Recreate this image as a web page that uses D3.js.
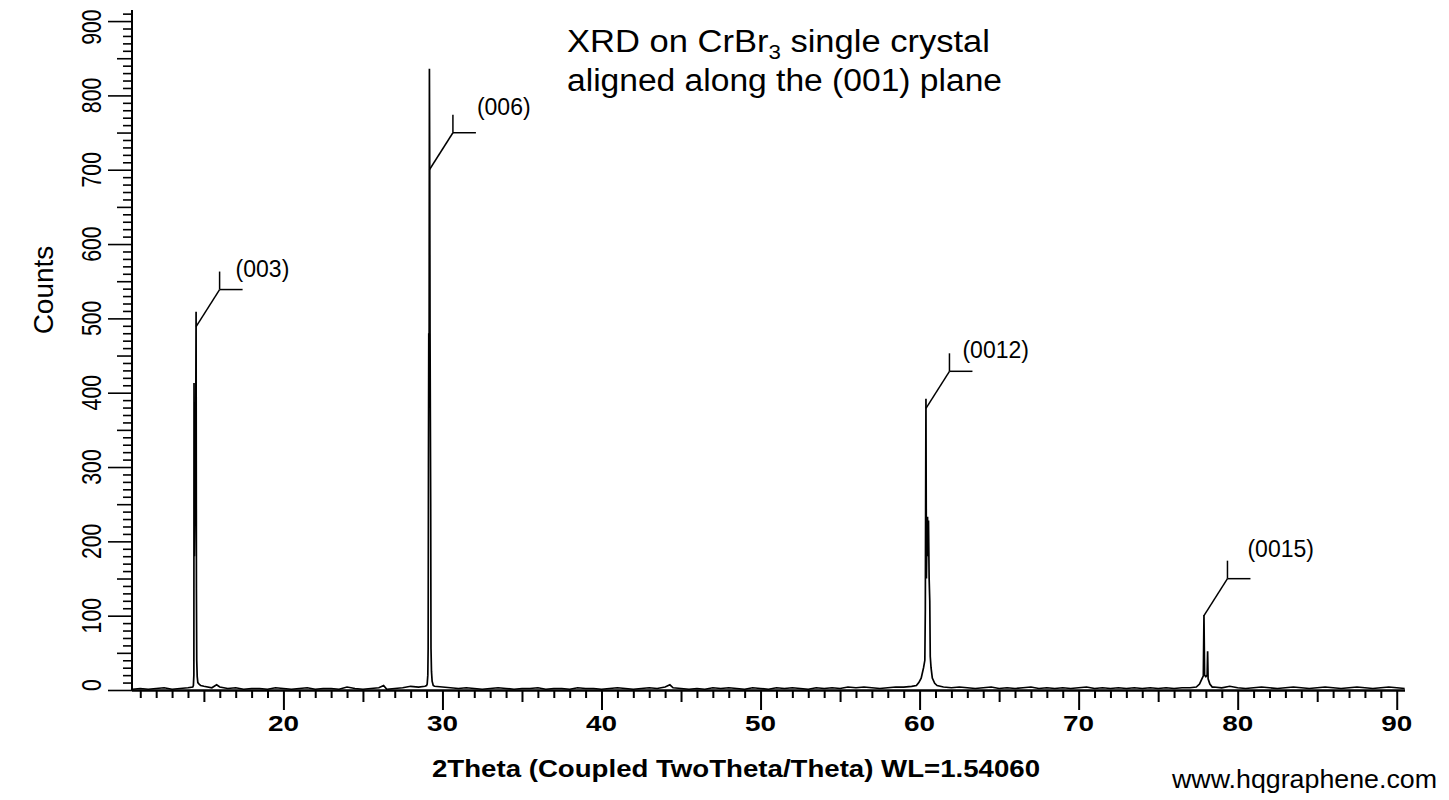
<!DOCTYPE html>
<html><head><meta charset="utf-8">
<script src="https://cdn.jsdelivr.net/npm/d3@7"></script>
<style>
body{margin:0;background:#fff}
svg{display:block}
text{font-family:Arial,"Liberation Sans",sans-serif;fill:#000}
</style>
</head><body>
<svg id="chart" width="1449" height="800"></svg>
<script>
// ---------------- DATA ----------------
const xTickLabels = [20, 30, 40, 50, 60, 70, 80, 90];
const yTickLabels = [0, 100, 200, 300, 400, 500, 600, 700, 800, 900];

// baseline scan points [2theta, counts]
const baselinePoints = [
 [10.5,1],[11,2],[11.5,1],[12,2],[12.5,3],[13,1],[13.5,2],[14,3],[15,5],[15.5,3],
 [15.8,7],[16,4],[16.5,2],[17,3],[17.5,1],[18,2],[18.5,2],[19,1],[19.5,3],[20,2],
 [20.5,1],[21,2],[21.5,3],[22,1],[22.5,2],[23,2],[23.5,1],[24,4],[24.5,2],[25,1],
 [25.5,2],[26,3],[26.3,6],[26.5,1],[27,2],[27.5,3],[28,5],[28.5,4],[29.5,5],[30,4],
 [30.5,3],[31,2],[31.5,3],[32,2],[32.5,1],[33,2],[33.5,3],[34,2],[34.5,1],[35,2],
 [35.5,2],[36,3],[36.5,1],[37,2],[37.5,2],[38,1],[38.5,3],[39,2],[39.5,2],[40,1],
 [40.5,2],[41,3],[41.5,2],[42,1],[42.5,2],[43,3],[43.5,2],[44,4],[44.3,7],[44.5,3],
 [45,2],[45.5,1],[46,2],[46.5,1],[47,3],[47.5,2],[48,3],[48.5,2],[49,1],[49.5,3],
 [50,2],[50.5,1],[51,3],[51.5,2],[52,3],[52.5,2],[53,1],[53.5,3],[54,2],[54.5,3],
 [55,2],[55.5,4],[56,3],[56.5,4],[57,3],[57.5,2],[58,3],[58.5,4],[59,4],[59.5,5],
 [61.5,4],[62,3],[62.5,4],[63,3],[63.5,2],[64,3],[64.5,4],[65,2],[65.5,3],[66,2],
 [66.5,3],[67,4],[67.5,2],[68,3],[68.5,2],[69,3],[69.5,2],[70,3],[70.5,4],[71,2],
 [71.5,3],[72,2],[72.5,3],[73,2],[73.5,3],[74,2],[74.5,3],[75,2],[75.5,3],[76,2],
 [76.5,3],[77,3],[78.5,4],[79,3],[79.5,5],[80,3],[80.5,2],[81,3],[81.5,4],[82,3],
 [82.5,2],[83,3],[83.5,4],[84,3],[84.5,2],[85,3],[85.5,4],[86,3],[86.5,2],[87,3],
 [87.5,4],[88,3],[88.5,2],[89,3],[89.5,4],[90,3],[90.5,2]
];

const peak003 = [
 [14.30,4],[14.34,6],[14.37,20],[14.38,413],[14.40,180],[14.43,250],[14.46,330],
 [14.49,380],[14.51,509],[14.53,137],[14.55,40],[14.58,18],[14.62,10],[14.70,8],[14.80,6]
];
const peak006 = [
 [28.90,5],[29.00,6],[29.04,8],[29.08,20],[29.10,56],[29.12,300],[29.14,480],[29.16,420],
 [29.18,836],[29.20,700],[29.22,480],[29.24,363],[29.26,250],[29.28,56],[29.31,25],
 [29.35,12],[29.42,6]
];
const peak0012 = [
 [59.80,6],[59.95,10],[60.10,16],[60.25,30],[60.33,40],[60.36,108],[60.40,392],[60.43,150],
 [60.46,200],[60.50,233],[60.53,180],[60.56,228],[60.60,150],[60.64,120],[60.67,45],
 [60.72,30],[60.80,16],[60.95,9],[61.10,6]
];
const peak0015 = [
 [77.40,4],[77.60,8],[77.75,15],[77.84,19],[77.88,101],[77.92,20],[78.00,18],[78.08,20],
 [78.11,52],[78.14,15],[78.25,8],[78.40,4]
];

const annotLabels = ["(003)", "(006)", "(0012)", "(0015)"];
const annotTheta  = [14.51, 29.18, 60.40, 77.88];
const annotCounts = [489, 700, 379, 100];

const titleLine1 = ["XRD on CrBr", "3", " single crystal"];
const titleLine2 = "aligned along the (001) plane";
const xTitle = "2Theta (Coupled TwoTheta/Theta) WL=1.54060";
const yTitle = "Counts";
const credit = "www.hqgraphene.com";

// ---------------- LAYOUT ----------------
const M = {left:132, right:1405, top:10, bottom:690};
const annotLabelOffset = [[16,-13],[24,-18],[13,-13],[20,-22]];

const svg = d3.select("#chart");
const x = d3.scaleLinear().domain([10.48, 90.52]).range([M.left, M.right]);
const y = d3.scaleLinear().domain([0, 914.9]).range([M.bottom, M.top]);

// merge data
const peakSets = [peak003, peak006, peak0012, peak0015];
const ranges = peakSets.map(p => [p[0][0], p[p.length-1][0]]);
const merged = baselinePoints
  .filter(d => !ranges.some(r => d[0] >= r[0] && d[0] <= r[1]))
  .concat(...peakSets)
  .sort((a,b) => a[0]-b[0]);

// ---------------- AXES ----------------
function yAxis(vals, size){
  svg.append("g").attr("transform",`translate(${M.left},0)`)
    .call(d3.axisLeft(y).tickValues(vals).tickSize(size).tickFormat(""))
    .call(g=>g.select(".domain").remove())
    .call(g=>g.selectAll("line").attr("stroke","#000").attr("stroke-width",1.6));
}
yAxis(d3.range(0, 911, 10).filter(v=>v%50!==0), 9);
yAxis(d3.range(50, 911, 100), 15);
yAxis(yTickLabels, 24);

function xAxis(vals, size){
  svg.append("g").attr("transform",`translate(0,${M.bottom})`)
    .call(d3.axisBottom(x).tickValues(vals).tickSize(size).tickFormat(""))
    .call(g=>g.select(".domain").remove())
    .call(g=>g.selectAll("line").attr("stroke","#000").attr("stroke-width",2));
}
xAxis(d3.range(11, 91, 1).filter(v=>v%5!==0), 8);
xAxis(d3.range(15, 91, 10), 12);
xAxis(xTickLabels, 20);

svg.append("line").attr("x1",M.left).attr("x2",M.left).attr("y1",M.top).attr("y2",M.bottom+1)
  .attr("stroke","#000").attr("stroke-width",2);
svg.append("line").attr("x1",M.left).attr("x2",M.right).attr("y1",M.bottom+0.5).attr("y2",M.bottom+0.5)
  .attr("stroke","#000").attr("stroke-width",2.5);

svg.append("g").selectAll("text").data(xTickLabels).join("text")
  .attr("x", d=>x(d)).attr("y", 731)
  .attr("text-anchor","middle")
  .attr("font-size",22).attr("font-weight","bold")
  .attr("textLength",31).attr("lengthAdjust","spacingAndGlyphs")
  .text(d=>d);

svg.append("g").selectAll("text").data(yTickLabels).join("text")
  .attr("transform", d=>{
    let cy = y(d);
    if (d===0) cy -= 5;
    if (d===900) cy += 6;
    return `translate(101,${cy}) rotate(-90) scale(0.76,1)`;
  })
  .attr("text-anchor","middle")
  .attr("font-size",28)
  .text(d=>d);

// ---------------- DATA LINE ----------------
svg.append("defs").append("clipPath").attr("id","clip")
  .append("rect").attr("x",M.left).attr("y",M.top).attr("width",M.right-M.left).attr("height",M.bottom-M.top+2);

svg.append("path")
  .datum(merged)
  .attr("clip-path","url(#clip)")
  .attr("fill","none").attr("stroke","#000").attr("stroke-width",1.7)
  .attr("d", d3.line().x(d=>x(d[0])).y(d=>y(d[1])));

// ---------------- ANNOTATIONS ----------------
const ann = svg.append("g").attr("stroke","#000").attr("stroke-width",1.5).attr("fill","none");
annotLabels.forEach((lab,i)=>{
  const sx = x(annotTheta[i]), sy = y(annotCounts[i]);
  const ex = sx + 23.5, ey = sy - 37;
  ann.append("line").attr("x1",sx).attr("y1",sy).attr("x2",ex).attr("y2",ey);
  ann.append("line").attr("x1",ex).attr("y1",ey).attr("x2",ex+23).attr("y2",ey);
  ann.append("line").attr("x1",ex).attr("y1",ey-18).attr("x2",ex).attr("y2",ey);
  svg.append("text").attr("x",ex+annotLabelOffset[i][0]).attr("y",ey+annotLabelOffset[i][1])
    .attr("font-size",23).text(lab);
});

// ---------------- TITLES ----------------
const t1 = svg.append("text").attr("x",567).attr("y",52).attr("font-size",31)
  .attr("textLength",423).attr("lengthAdjust","spacingAndGlyphs");
t1.append("tspan").text(titleLine1[0]);
t1.append("tspan").attr("font-size",20).attr("dy",7).text(titleLine1[1]);
t1.append("tspan").attr("dy",-7).text(titleLine1[2]);
svg.append("text").attr("x",567).attr("y",91).attr("font-size",31)
  .attr("textLength",435).attr("lengthAdjust","spacingAndGlyphs").text(titleLine2);

svg.append("text").attr("x",432).attr("y",777).attr("font-size",23).attr("font-weight","bold")
  .attr("textLength",608).attr("lengthAdjust","spacingAndGlyphs").text(xTitle);

svg.append("text").attr("transform","translate(53,290) rotate(-90)")
  .attr("text-anchor","middle").attr("font-size",28).text(yTitle);

svg.append("text").attr("x",1172).attr("y",788).attr("font-size",26)
  .attr("textLength",265).attr("lengthAdjust","spacingAndGlyphs").text(credit);
</script>
</body></html>
